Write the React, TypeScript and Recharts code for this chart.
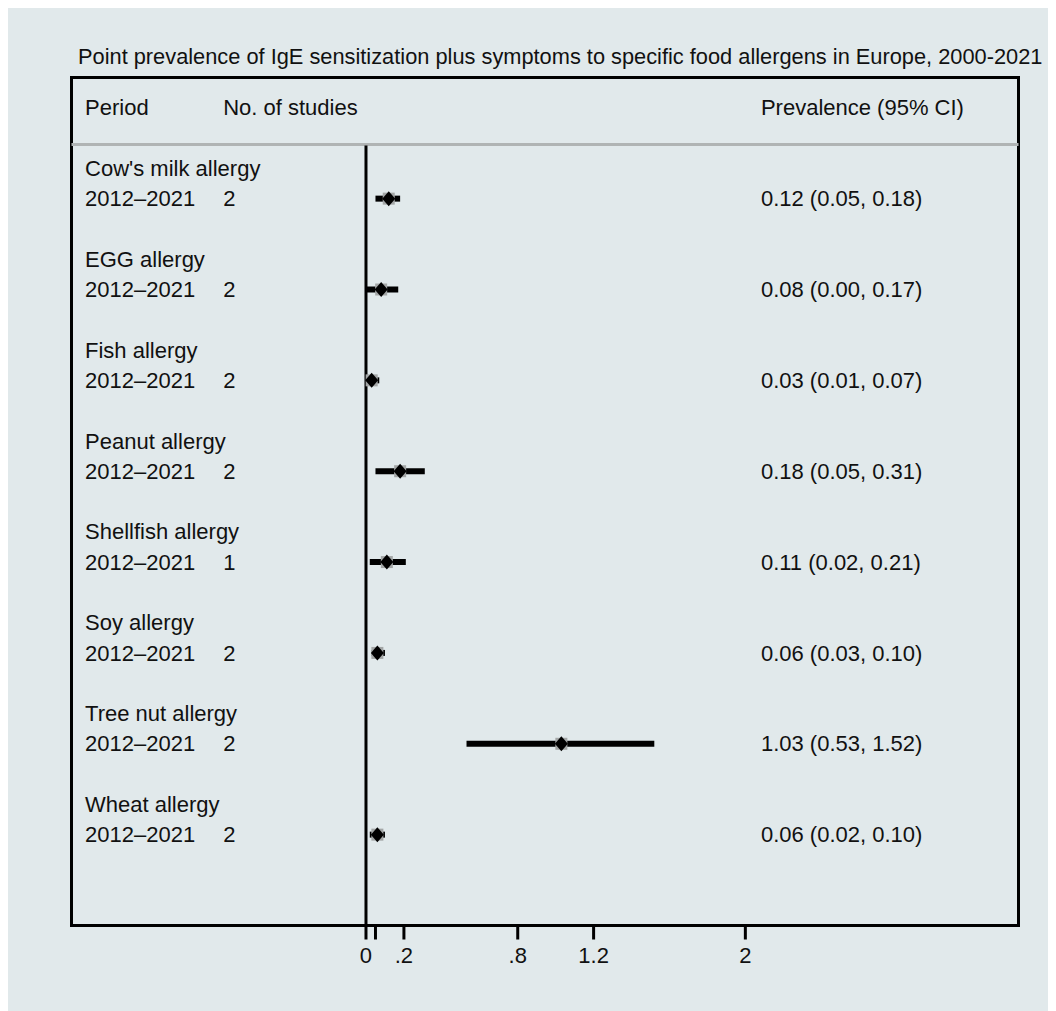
import { ComposedChart, ErrorBar, ReferenceArea, ReferenceLine, Scatter, XAxis, YAxis } from 'recharts';

const title = 'Point prevalence of IgE sensitization plus symptoms to specific food allergens in Europe, 2000-2021';
const headers = ['Period', 'No. of studies', 'Prevalence (95% CI)'];

const allergens = [
  "Cow's milk allergy",
  'EGG allergy',
  'Fish allergy',
  'Peanut allergy',
  'Shellfish allergy',
  'Soy allergy',
  'Tree nut allergy',
  'Wheat allergy',
];
const periods = ['2012–2021', '2012–2021', '2012–2021', '2012–2021', '2012–2021', '2012–2021', '2012–2021', '2012–2021'];
const studies = [2, 2, 2, 2, 1, 2, 2, 2];
const estimates = [0.12, 0.08, 0.03, 0.18, 0.11, 0.06, 1.03, 0.06];
const lower = [0.05, 0.0, 0.01, 0.05, 0.02, 0.03, 0.53, 0.02];
const upper = [0.18, 0.17, 0.07, 0.31, 0.21, 0.1, 1.52, 0.1];

const xTicks = [0, 0.05, 0.2, 0.8, 1.2, 2];
const xTickLabels = ['0', '', '.2', '.8', '1.2', '2'];

// layout: x domain spans the whole framed box, text columns sit in data units
const X_MIN = -1.5525;
const X_MAX = 3.44;
const COL_PERIOD = -1.481;
const COL_STUDIES = -0.753;
const COL_VALUE = 2.082;
const Y_MIN = -1;
const Y_MAX = 27;
const HEADER_LINE = 1.213;

const FONT = '"Liberation Sans", Arial, Helvetica, sans-serif';
const TEXT = '#111';
const FS = 22;

const rowName = (i: number) => 2 + i * 3;
const rowValue = (i: number) => 3 + i * 3;

const fmt = (v: number) => v.toFixed(2);

const textData = [
  { x: COL_PERIOD, y: 0, text: headers[0] },
  { x: COL_STUDIES, y: 0, text: headers[1] },
  { x: COL_VALUE, y: 0, text: headers[2] },
  ...allergens.flatMap((name, i) => [
    { x: COL_PERIOD, y: rowName(i), text: name },
    { x: COL_PERIOD, y: rowValue(i), text: periods[i] },
    { x: COL_STUDIES, y: rowValue(i), text: String(studies[i]) },
    { x: COL_VALUE, y: rowValue(i), text: `${fmt(estimates[i])} (${fmt(lower[i])}, ${fmt(upper[i])})` },
  ]),
];

const pointData = estimates.map((v, i) => ({
  x: v,
  y: rowValue(i),
  err: [v - lower[i], upper[i] - v],
}));

const TextShape = (props: any) => (
  <text x={props.cx} y={props.cy + 7.6} fontSize={FS} fill={TEXT} textAnchor="start">
    {props.payload.text}
  </text>
);

const Diamond = (props: any) => {
  const { cx, cy } = props;
  return (
    <g>
      <rect x={cx - 6} y={cy - 6} width={12} height={12} fill="#a3a6a6" />
      <polygon points={`${cx},${cy - 7.5} ${cx + 6.5},${cy} ${cx},${cy + 7.5} ${cx - 6.5},${cy}`} fill="#000" />
    </g>
  );
};

export default function App() {
  return (
    <div style={{ position: 'relative', width: 1048, height: 1003, background: '#e1e9eb', fontFamily: FONT }}>
      <div
        style={{
          position: 'absolute',
          left: 70,
          top: 36,
          fontSize: 21.8,
          color: TEXT,
          whiteSpace: 'nowrap',
        }}
      >
        {title}
      </div>
      <ComposedChart width={1048} height={1003} margin={{ top: 69.5, right: 37.5, bottom: 25.5, left: 63.5 }}>
        <XAxis
          type="number"
          dataKey="x"
          domain={[X_MIN, X_MAX]}
          allowDataOverflow
          ticks={xTicks}
          interval={0}
          tickFormatter={(v: number) => xTickLabels[xTicks.indexOf(v)] ?? ''}
          axisLine={false}
          tickLine={{ stroke: '#000', strokeWidth: 3 }}
          tickSize={14}
          tickMargin={8}
          height={60}
          tick={{ fontSize: FS, fill: TEXT }}
        />
        <YAxis type="number" dataKey="y" domain={[Y_MIN, Y_MAX]} reversed allowDataOverflow hide />
        <ReferenceArea
          x1={X_MIN}
          x2={X_MAX}
          y1={Y_MIN}
          y2={Y_MAX}
          fill="none"
          stroke="#000"
          strokeWidth={3}
          ifOverflow="visible"
        />
        <ReferenceLine y={HEADER_LINE} stroke="#b0b4b4" strokeWidth={3} ifOverflow="visible" />
        <ReferenceLine
          segment={[
            { x: 0, y: HEADER_LINE + 0.03 },
            { x: 0, y: Y_MAX },
          ]}
          stroke="#000"
          strokeWidth={3}
          ifOverflow="visible"
        />
        <Scatter data={textData} shape={TextShape} isAnimationActive={false} />
        <Scatter data={pointData} shape={Diamond} isAnimationActive={false}>
          <ErrorBar dataKey="err" direction="x" width={0} stroke="#000" strokeWidth={6} />
        </Scatter>
      </ComposedChart>
    </div>
  );
}
